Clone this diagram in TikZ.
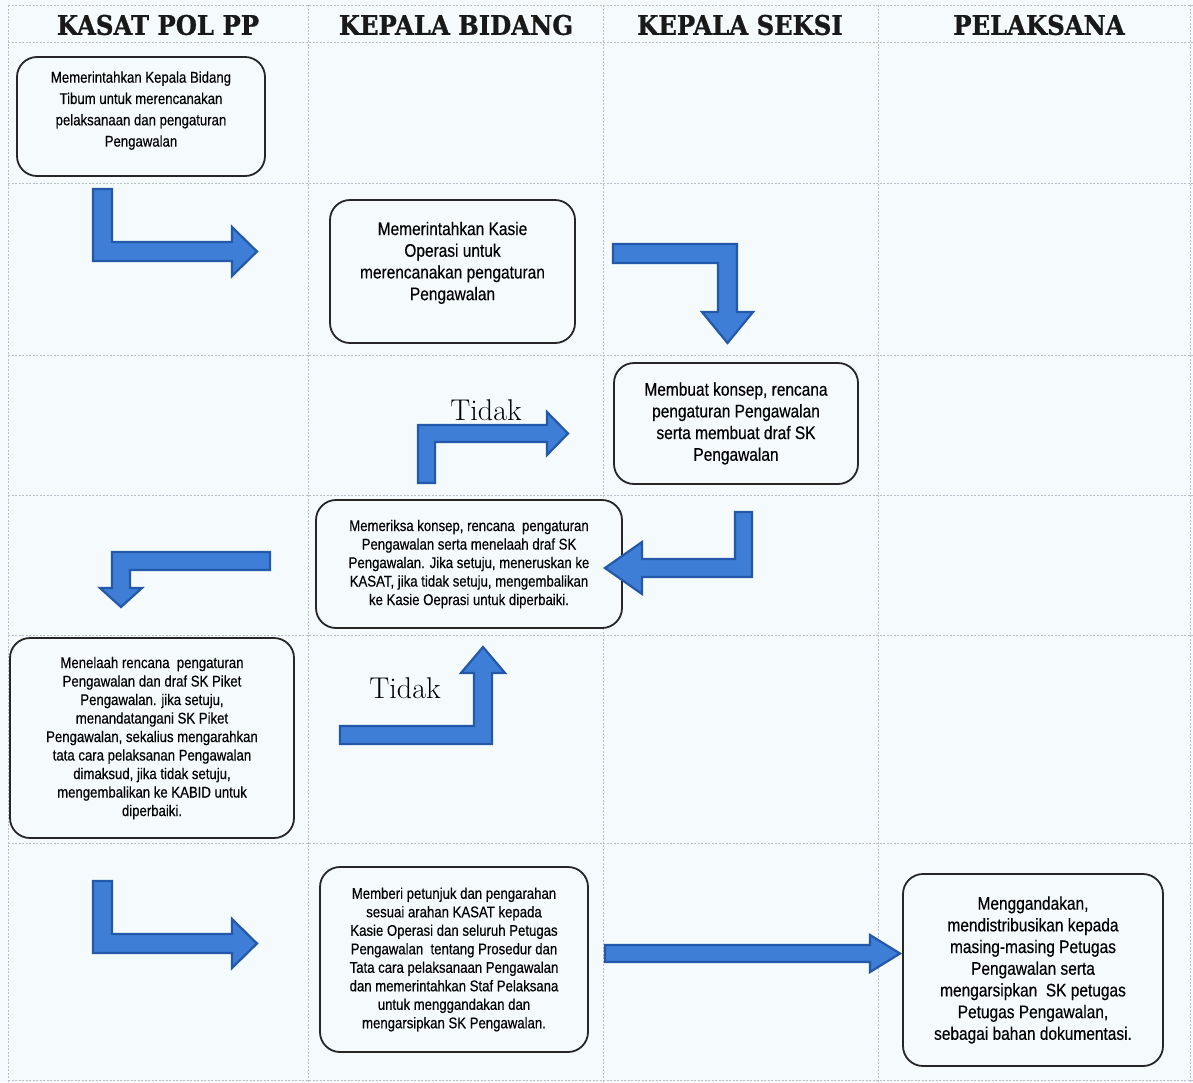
\documentclass[tikz,border=0pt]{standalone}
\usepackage{fontspec}
\newfontfamily\boxfont[FakeStretch=0.85,FakeBold=0.4]{Liberation Sans}
\newfontfamily\headfont[FakeStretch=0.9,FakeBold=1]{DejaVu Serif}
\usetikzlibrary{positioning}
\definecolor{paper}{RGB}{245,250,253}
\definecolor{gridgray}{RGB}{185,190,205}
\definecolor{arrowblue}{RGB}{62,126,214}
\definecolor{arrowedge}{RGB}{36,88,168}

\begin{document}
\begin{tikzpicture}[
    x=1pt, y=-1pt,
    box/.style={rectangle, rounded corners=20pt, draw=black!85, line width=1.8pt, fill=paper, align=center, text=black, inner sep=4pt},
    smalltext/.style={font=\boxfont\fontsize{15.5}{18.5}\selectfont},
    bigtext/.style={font=\boxfont\fontsize{18.2}{21.7}\selectfont},
    lane/.style={font=\headfont\bfseries\fontsize{27}{30}\selectfont, text=black!90},
    tidak/.style={font=\fontsize{30}{32}\selectfont, text=black},
    gridline/.style={draw=gridgray, line width=0.7pt, dash pattern=on 2pt off 1.5pt},
    blockarrow/.style={fill=arrowblue, draw=arrowedge, line width=2.2pt, line join=miter}
]

% Page
\fill[paper] (0,0) rectangle (1193,1082);
\useasboundingbox (0,0) rectangle (1193,1082);

% Lanes
\foreach \x in {8,308,603,878,1190}
    \draw[gridline] (\x,5) -- (\x,1082);
\foreach \y in {5,42,183,355,495,635,843,1080}
    \draw[gridline] (8,\y) -- (1193,\y);

% Headers
\node[lane] (hkasat) at (158,25) {KASAT POL PP};
\node[lane] (hkabid) at (456,25) {KEPALA BIDANG};
\node[lane] (hkasi) at (740,25) {KEPALA SEKSI};
\node[lane] (hpelaksana) at (1039,25) {PELAKSANA};

% Steps
\node[box, smalltext, font=\boxfont\fontsize{15.5}{21.3}\selectfont, text depth=15pt, minimum width=248pt, minimum height=119pt] (kasat1) at (141,116.5)
    {Memerintahkan Kepala Bidang\\Tibum untuk merencanakan\\pelaksanaan dan pengaturan\\Pengawalan};

\node[box, bigtext, text depth=21pt, minimum width=245pt, minimum height=143pt] (kabid1) at (452.5,271.5)
    {Memerintahkan Kasie\\Operasi untuk\\merencanakan pengaturan\\Pengawalan};

\node[box, bigtext, minimum width=244pt, minimum height=121pt] (kasi1) at (736,423.5)
    {Membuat konsep, rencana\\pengaturan Pengawalan\\serta membuat draf SK\\Pengawalan};

\node[box, smalltext, minimum width=306pt, minimum height=128pt] (kabid2) at (469,564)
    {Memeriksa konsep, rencana\ \ pengaturan\\Pengawalan serta menelaah draf SK\\Pengawalan. Jika setuju, meneruskan ke\\KASAT, jika tidak setuju, mengembalikan\\ke Kasie Oeprasi untuk diperbaiki.};

\node[box, smalltext, minimum width=284pt, minimum height=200pt] (kasat2) at (152,738)
    {Menelaah rencana\ \ pengaturan\\Pengawalan dan draf SK Piket\\Pengawalan. jika setuju,\\menandatangani SK Piket\\Pengawalan, sekalius mengarahkan\\tata cara pelaksanan Pengawalan\\dimaksud, jika tidak setuju,\\mengembalikan ke KABID untuk\\diperbaiki.};

\node[box, smalltext, minimum width=268pt, minimum height=185pt] (kabid3) at (454,959.5)
    {Memberi petunjuk dan pengarahan\\sesuai arahan KASAT kepada\\Kasie Operasi dan seluruh Petugas\\Pengawalan\ \ tentang Prosedur dan\\Tata cara pelaksanaan Pengawalan\\dan memerintahkan Staf Pelaksana\\untuk menggandakan dan\\mengarsipkan SK Pengawalan.};

\node[box, bigtext, minimum width=260pt, minimum height=192pt] (pelaksana1) at (1033,970)
    {Menggandakan,\\mendistribusikan kepada\\masing-masing Petugas\\Pengawalan serta\\mengarsipkan\ \ SK petugas\\Petugas Pengawalan,\\sebagai bahan dokumentasi.};

% Block arrows
\draw[blockarrow] (93,189) -- (112,189) -- (112,242) -- (232,242) -- (232,227) -- (257,251.5)
    -- (232,276) -- (232,261) -- (93,261) -- cycle;
\draw[blockarrow] (613,244) -- (737,244) -- (737,312) -- (753,312) -- (727.5,343)
    -- (702,312) -- (718,312) -- (718,263) -- (613,263) -- cycle;
\draw[blockarrow] (418,483) -- (418,425) -- (547,425) -- (547,412) -- (568,433.5)
    -- (547,455) -- (547,442) -- (435,442) -- (435,483) -- cycle;
\draw[blockarrow] (752,512) -- (752,577) -- (642,577) -- (642,594) -- (605,568)
    -- (642,542) -- (642,559) -- (735,559) -- (735,512) -- cycle;
\draw[blockarrow] (270,552) -- (270,570) -- (130,570) -- (130,588) -- (142,588)
    -- (121,607) -- (100,588) -- (112,588) -- (112,552) -- cycle;
\draw[blockarrow] (340,726) -- (474,726) -- (474,673) -- (461,673) -- (483,647)
    -- (505,673) -- (492,673) -- (492,744) -- (340,744) -- cycle;
\draw[blockarrow] (93,881) -- (112,881) -- (112,934) -- (232,934) -- (232,919) -- (257,943.5)
    -- (232,968) -- (232,953) -- (93,953) -- cycle;
\draw[blockarrow] (605,945) -- (870,945) -- (870,935) -- (900,953.5) -- (870,972)
    -- (870,962) -- (605,962) -- cycle;

% Labels
\node[tidak] (tidak1) at (486,410) {Tidak};
\node[tidak] (tidak2) at (405,688) {Tidak};

\end{tikzpicture}
\end{document}
